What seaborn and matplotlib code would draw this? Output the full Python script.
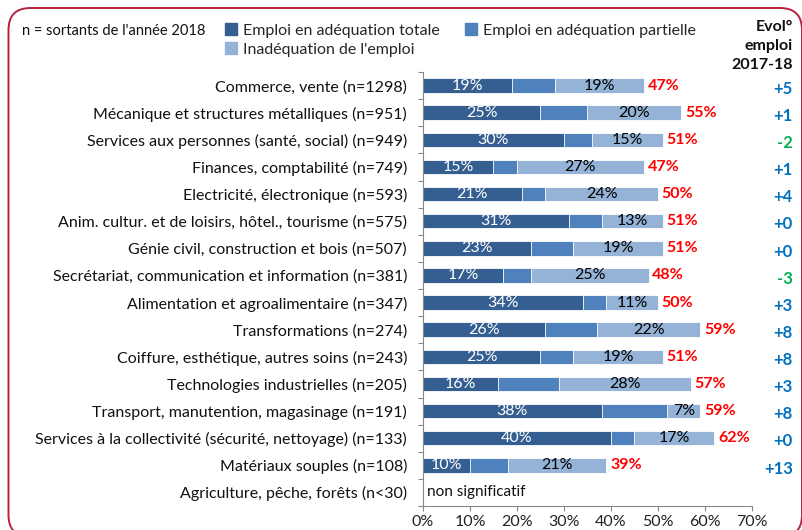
import numpy as np
import pandas as pd
import seaborn as sns
import matplotlib.pyplot as plt
import matplotlib.transforms as mtransforms
from matplotlib.patches import FancyBboxPatch, Patch

sns.set_theme(style="white")
plt.rcParams['font.family'] = ['Lato', 'DejaVu Sans']

# données
categories = [
    "Commerce, vente (n=1298)",
    "Mécanique et structures métalliques (n=951)",
    "Services aux personnes (santé, social) (n=949)",
    "Finances, comptabilité (n=749)",
    "Electricité, électronique (n=593)",
    "Anim. cultur. et de loisirs, hôtel., tourisme (n=575)",
    "Génie civil, construction et bois (n=507)",
    "Secrétariat, communication et information (n=381)",
    "Alimentation et agroalimentaire (n=347)",
    "Transformations (n=274)",
    "Coiffure, esthétique, autres soins (n=243)",
    "Technologies industrielles (n=205)",
    "Transport, manutention, magasinage (n=191)",
    "Services à la collectivité (sécurité, nettoyage) (n=133)",
    "Matériaux souples (n=108)",
    "Agriculture, pêche, forêts (n<30)",
]
adequation_totale = [19, 25, 30, 15, 21, 31, 23, 17, 34, 26, 25, 16, 38, 40, 10, np.nan]
adequation_partielle = [9, 10, 6, 5, 5, 7, 9, 6, 5, 11, 7, 13, 14, 5, 8, np.nan]
inadequation = [19, 20, 15, 27, 24, 13, 19, 25, 11, 22, 19, 28, 7, 17, 21, np.nan]
evolution = ["+5", "+1", "-2", "+1", "+4", "+0", "+0", "-3", "+3", "+8", "+8", "+3", "+8", "+0", "+13", ""]

df = pd.DataFrame({
    "cat": categories,
    "tot": adequation_totale,
    "part": adequation_partielle,
    "inad": inadequation,
})
df["c1"] = df["tot"]
df["c2"] = df["tot"] + df["part"]
df["c3"] = df["c2"] + df["inad"]

c_dark = "#365F91"
c_mid = "#4F81BD"
c_light = "#95B3D7"

fig = plt.figure(figsize=(8.03, 5.30), dpi=100)
ax = fig.add_axes([423 / 803, 1 - 506 / 530, (752 - 423) / 803, (506 - 72) / 530])

# barres empilées (superposées)
for col, color in [("c3", c_light), ("c2", c_mid), ("c1", c_dark)]:
    sns.barplot(data=df, x=col, y="cat", order=categories, color=color,
                width=0.53, saturation=1, ax=ax, orient="h", errorbar=None,
                edgecolor="white", linewidth=0.6)

ax.set_xlim(0, 70)
ax.set_ylim(15.5, -0.5)
ax.set_xlabel("")
ax.set_ylabel("")
ax.set_xticks(range(0, 71, 10))
ax.set_xticklabels([f"{v}%" for v in range(0, 71, 10)], fontsize=11.5, color="#222222")
ax.tick_params(axis="x", which="major", bottom=True, length=3.5, width=0.8,
               color="#888888", pad=3)
ax.set_yticks(range(len(categories)))
ax.set_yticklabels(categories, fontsize=11.5, color="#111111")
ax.tick_params(axis="y", which="major", left=False, length=0, pad=11.5)
ax.set_yticks(np.arange(-0.5, 16, 1), minor=True)
ax.tick_params(axis="y", which="minor", left=True, length=3.6, width=0.8, color="#888888")
for s in ["top", "right"]:
    ax.spines[s].set_visible(False)
for s in ["left", "bottom"]:
    ax.spines[s].set_color("#888888")
    ax.spines[s].set_linewidth(0.8)

# étiquettes
for i, r in df.iterrows():
    if np.isnan(r["tot"]):
        ax.text(0.8, i, "non significatif", va="center", ha="left", fontsize=11, color="#111111")
        continue
    ax.text(r["tot"] / 2, i, f"{r['tot']:.0f}%", va="center", ha="center",
            fontsize=11.5, color="white")
    ax.text(r["c2"] + r["inad"] / 2, i, f"{r['inad']:.0f}%", va="center", ha="center",
            fontsize=11.5, color="black")
    ax.text(r["c3"] + 0.8, i, f"{r['c3']:.0f}%", va="center", ha="left",
            fontsize=11.5, color="#FF0000", fontweight="bold")

# évolution 2017-18
trans = mtransforms.blended_transform_factory(fig.transFigure, ax.transData)
for i, ev in enumerate(evolution):
    if not ev:
        continue
    ax.text(793 / 803, i + 0.12, ev, transform=trans, ha="right", va="center",
            fontsize=12, fontweight="bold", clip_on=False,
            color="#00B050" if ev.startswith("-") else "#0070C0")

# en-tête
fig.text(22 / 803, 1 - 31 / 530, "n = sortants de l'année 2018", fontsize=10.5,
         va="center", ha="left", color="#111111")
fig.text(793 / 803, 1 - 20 / 530, "Evol°\nemploi\n2017-18", fontsize=11.5,
         fontweight="bold", ha="right", va="top", linespacing=1.45, color="#111111")

handles = [Patch(color=c_dark, label="Emploi en adéquation totale"),
           Patch(color=c_light, label="Inadéquation de l'emploi"),
           Patch(color=c_mid, label="Emploi en adéquation partielle")]
fig.legend(handles=handles, ncol=2, loc="upper left",
           bbox_to_anchor=(214 / 803, 1 - 12 / 530), frameon=False,
           fontsize=11.5, handlelength=0.75, handleheight=0.75,
           handletextpad=0.35, columnspacing=1.6, labelspacing=0.3,
           borderpad=0.2)

# cadre arrondi (en pouces)
frame = FancyBboxPatch((0.085, -0.07), 8.02 - 0.085, 5.22 + 0.07,
                       boxstyle="round,pad=0,rounding_size=0.22",
                       transform=fig.dpi_scale_trans, fill=False,
                       edgecolor="#B5223F", linewidth=1.4, clip_on=False)
fig.patches.append(frame)

fig.savefig("out.png", dpi=100)
